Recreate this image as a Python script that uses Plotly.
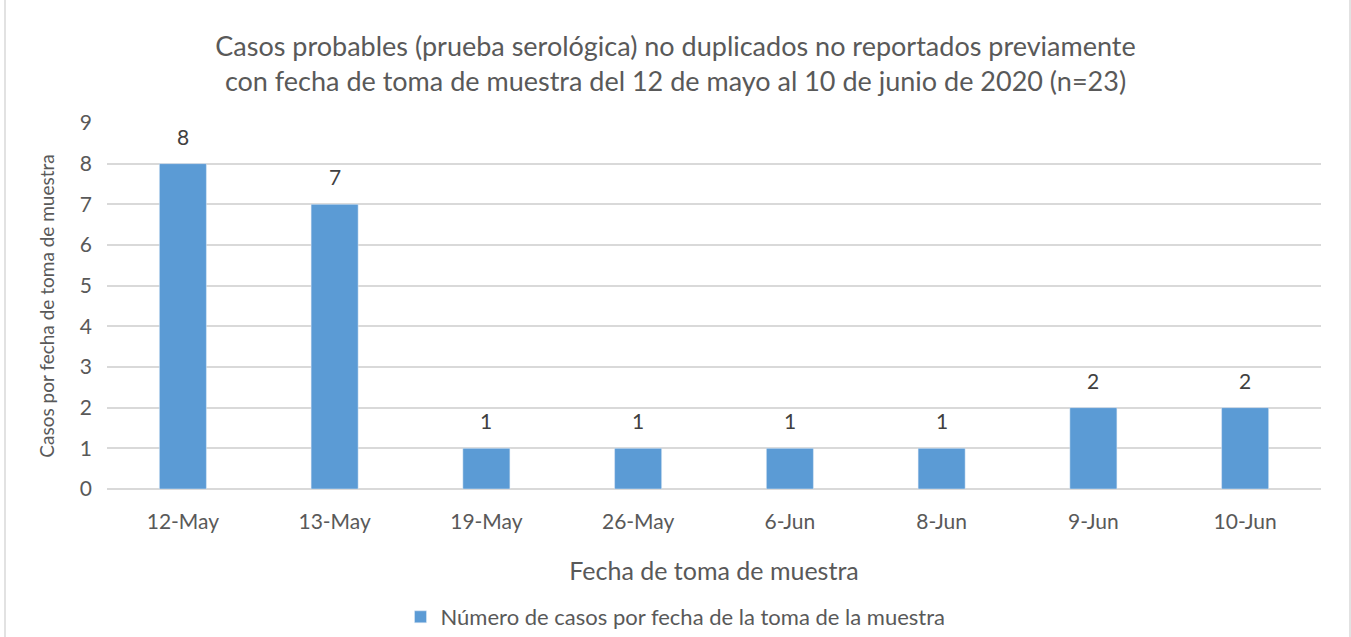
import plotly.graph_objects as go

categories = ["12-May", "13-May", "19-May", "26-May", "6-Jun", "8-Jun", "9-Jun", "10-Jun"]
values = [8, 7, 1, 1, 1, 1, 2, 2]
series_name = "Número de casos por fecha de la toma de la muestra"
title_text = "Casos probables (prueba serológica) no duplicados no reportados previamente<br>con fecha de toma de muestra del 12 de mayo al 10 de junio de 2020 (n=23)"
y_title = "Casos por fecha de toma de muestra"
x_title = "Fecha de toma de muestra"

FONT = "Lato"
TXT = "#595959"

fig = go.Figure()
fig.add_trace(go.Bar(
    x=categories, y=values, name=series_name,
    marker=dict(color="#5B9BD5"),
))

for c, v in zip(categories, values):
    fig.add_annotation(x=c, y=v, text=str(v), showarrow=False, yanchor="bottom",
                       yshift=13, font=dict(family=FONT, size=21, color="#404040"))

W, H = 1351, 637
L, R, T, B = 107, 30, 123, 148
pw, ph = W - L - R, H - T - B

fig.update_layout(
    width=W, height=H,
    margin=dict(l=L, r=R, t=T, b=B),
    paper_bgcolor="white", plot_bgcolor="white",
    font=dict(family=FONT, color=TXT),
    title=dict(text=title_text, x=0.5, xref="container", xanchor="center",
               y=1 - 56 / H, yanchor="middle", yref="container",
               font=dict(family=FONT, size=27, color=TXT)),
    bargap=0.69,
    showlegend=True,
    legend=dict(orientation="h", x=0.5, xref="container", xanchor="center",
                y=(H - 617) / H, yref="container", yanchor="middle",
                font=dict(family=FONT, size=22, color=TXT),
                itemwidth=30),
    xaxis=dict(showgrid=False, showline=False, ticks="", ticklabelstandoff=18,
               tickfont=dict(family=FONT, size=21, color=TXT),
               title=dict(text=x_title, font=dict(family=FONT, size=25, color=TXT), standoff=30)),
    yaxis=dict(range=[0, 9], dtick=1, showgrid=True, gridcolor="#D9D9D9", gridwidth=1.5,
               zeroline=True, zerolinecolor="#D9D9D9", zerolinewidth=1.5,
               showline=False, ticks="", ticklabelstandoff=14,
               tickfont=dict(family=FONT, size=21, color=TXT),
               title=dict(text=y_title, font=dict(family=FONT, size=19, color=TXT), standoff=20)),
    shapes=[dict(type="rect", xref="paper", yref="paper",
                 x0=(5 - L) / pw, x1=(1350 - L) / pw,
                 y0=(H - T - 700) / ph, y1=(H - T - 6) / ph,
                 line=dict(color="#D9D9D9", width=1.5), fillcolor="rgba(0,0,0,0)", layer="below")],
)

fig.write_html("out.html", config={"displayModeBar": False},
               post_script="document.body.style.margin='0';document.body.style.overflow='hidden';")
